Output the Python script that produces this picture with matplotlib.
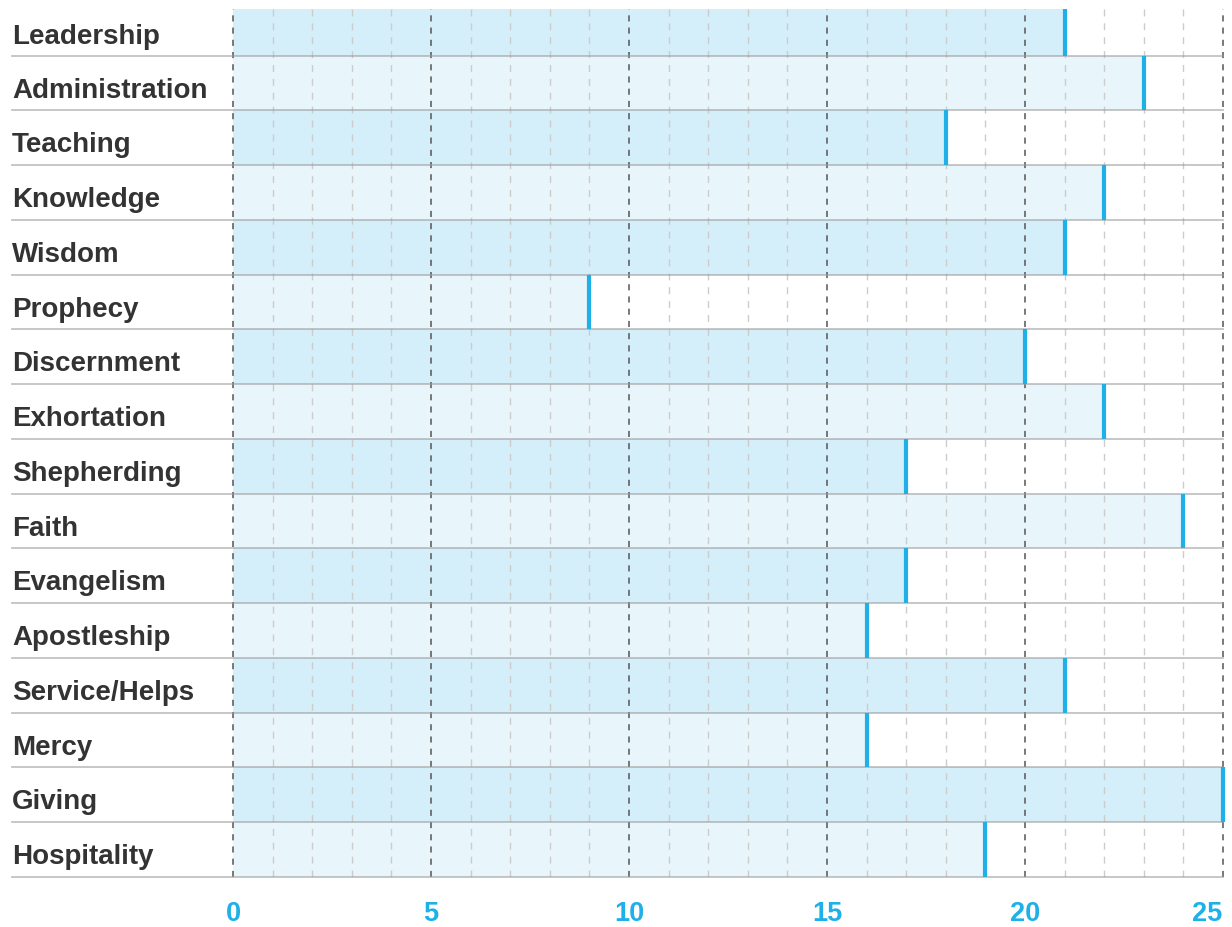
import matplotlib.pyplot as plt
import matplotlib.transforms as mtransforms

# Gift scores, top to bottom
gifts = ["Leadership", "Administration", "Teaching", "Knowledge", "Wisdom",
         "Prophecy", "Discernment", "Exhortation", "Shepherding", "Faith",
         "Evangelism", "Apostleship", "Service/Helps", "Mercy", "Giving",
         "Hospitality"]
scores = [21, 23, 18, 22, 21, 9, 20, 22, 17, 24, 17, 16, 21, 16, 25, 19]
tick_vals = [0, 5, 10, 15, 20, 25]

dark_fill = "#d4eefa"
light_fill = "#e8f5fb"
accent = "#1fb0e8"

fig = plt.figure(figsize=(12.32, 9.28), dpi=100)
W, H = 1232, 928
ax = fig.add_axes([233 / W, (H - 878) / H, (1223 - 233) / W, (878 - 10) / H])

n = len(gifts)
ypos = list(range(n))
colors = [dark_fill if i % 2 == 0 else light_fill for i in ypos]

ax.barh(ypos, scores, height=1.0, color=colors, zorder=1)

# grid: minor every 1, major every 5
for x in range(0, 26):
    if x % 5 == 0:
        ax.axvline(x, color="#555555", lw=1.1, ls=(0, (4, 4)), zorder=3, clip_on=False)
    else:
        ax.axvline(x, color="#cccccc", lw=1.0, ls=(0, (5, 5)), zorder=2)

# row separators, extending under the labels
x0 = (12 - 233) / (1223 - 233)
for y in ypos:
    ax.axhline(y + 0.5, xmin=x0, xmax=1.0, color="#9a9a9a", alpha=0.6,
               lw=1.3, zorder=3, clip_on=False)

# end markers
for y, s in zip(ypos, scores):
    ax.plot([s, s], [y - 0.5, y + 0.5], color=accent, lw=3, zorder=5,
            solid_capstyle="butt", clip_on=(y == 0))

ax.set_xlim(0, 25)
ax.set_ylim(n - 0.5, -0.5 + 8 / 54.7)

for s in ax.spines.values():
    s.set_visible(False)
ax.set_yticks([])
ax.set_xticks([])

# x tick labels
tx = mtransforms.blended_transform_factory(ax.transData, fig.transFigure)
for v in tick_vals:
    if v == tick_vals[-1]:
        fig.text(1222 / W, (H - 914) / H, str(v), ha="right", va="center",
                 fontsize=19.5, fontweight="bold", color=accent,
                 family="Liberation Sans")
    else:
        fig.text(v, (H - 914) / H, str(v), transform=tx, ha="center", va="center",
                 fontsize=19.5, fontweight="bold", color=accent,
                 family="Liberation Sans")

# category labels, left aligned in figure
trans = mtransforms.blended_transform_factory(fig.transFigure, ax.transData)
for y, g in zip(ypos, gifts):
    yy = y + 0.12 if y > 0 else y + 0.14
    fig.text(12 / W, yy, g, transform=trans, ha="left", va="center",
             fontsize=20, fontweight="bold", color="#333333",
             family="Liberation Sans")

fig.savefig("out.png", dpi=100)
